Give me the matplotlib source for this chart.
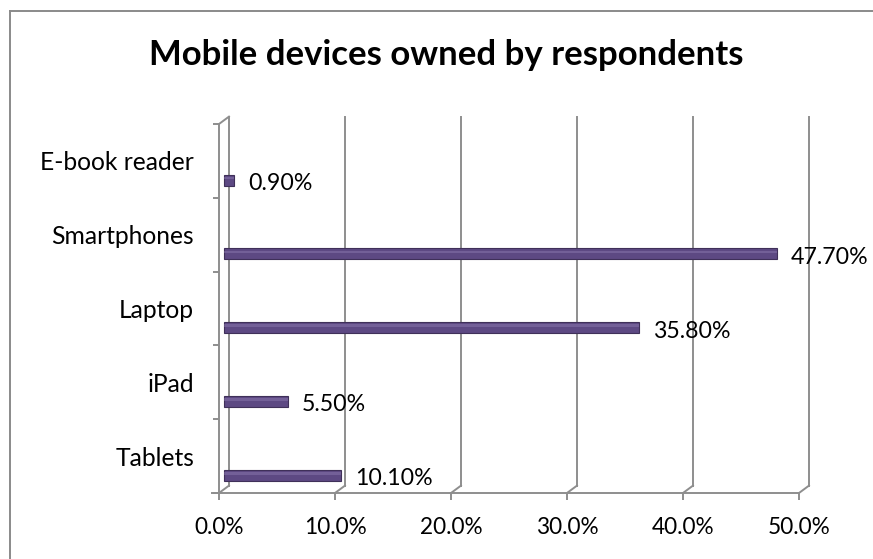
import matplotlib

matplotlib.use("Agg")
import matplotlib.pyplot as plt
from matplotlib.lines import Line2D

# Survey results: share of respondents owning each device type
devices = ["Tablets", "iPad", "Laptop", "Smartphones", "E-book reader"]
shares = [10.1, 5.5, 35.8, 47.7, 0.9]
x_ticks = [0, 10, 20, 30, 40, 50]
x_tick_labels = ["0.0%", "10.0%", "20.0%", "30.0%", "40.0%", "50.0%"]

TITLE = "Mobile devices owned by respondents"

W, H = 873, 559
BAR_COLOR = "#5d4983"
BAR_EDGE = "#3f3059"
BAR_SHINE = "#8a77ad"
GRID_COLOR = "#8e8e8e"
DEPTH_X = 0.86  # pseudo-3D depth of the back wall, in % units
DEPTH_Y = 0.10  # same depth, in category units
BAR_DROP = 0.26
BAR_HEIGHT = 0.15

plt.rcParams["font.family"] = ["Lato", "DejaVu Sans"]


def draw_chart() -> None:
    fig = plt.figure(figsize=(W / 100, H / 100), dpi=100)
    ax = fig.add_axes([219 / W, 1 - 493 / H, 580 / W, 369 / H])
    ax.set_xlim(0, 50)
    ax.set_ylim(0, len(devices))

    # back wall gridlines and floor diagonals
    for t in x_ticks:
        ax.plot([t + DEPTH_X, t + DEPTH_X], [DEPTH_Y, len(devices) + DEPTH_Y],
                color=GRID_COLOR, lw=1.4, clip_on=False, zorder=1)
        ax.plot([t, t + DEPTH_X], [0, DEPTH_Y], color=GRID_COLOR, lw=1.4,
                clip_on=False, zorder=1)
    ax.plot([0, DEPTH_X], [len(devices), len(devices) + DEPTH_Y],
            color=GRID_COLOR, lw=1.4, clip_on=False, zorder=1)
    ax.plot([-0.6, 50], [0, 0], color=GRID_COLOR, lw=1.4, clip_on=False, zorder=1)

    # bars sit halfway into the depth
    y_pos = [i + 0.5 - BAR_DROP for i in range(len(devices))]
    ax.barh(y_pos, shares, height=BAR_HEIGHT, left=DEPTH_X / 2, color=BAR_COLOR,
            edgecolor=BAR_EDGE, linewidth=0.8, zorder=3)
    ax.barh([y + BAR_HEIGHT * 0.18 for y in y_pos], shares, height=BAR_HEIGHT * 0.25,
            left=DEPTH_X / 2, color=BAR_SHINE, alpha=0.5, linewidth=0, zorder=4)

    for y, v in zip(y_pos, shares):
        ax.annotate(f"{v:.2f}%", xy=(v + DEPTH_X / 2, y), xytext=(10, -2.5),
                    textcoords="offset points", va="center", ha="left",
                    fontsize=16.7, color="black", zorder=5)

    for side in ["top", "right", "bottom"]:
        ax.spines[side].set_visible(False)
    ax.spines["left"].set_color(GRID_COLOR)
    ax.spines["left"].set_linewidth(1.4)

    ax.set_yticks(range(len(devices) + 1))
    ax.set_yticklabels([])
    ax.set_yticks([i + 0.5 for i in range(len(devices))], minor=True)
    ax.set_yticklabels(devices, minor=True, fontsize=17.7)
    ax.tick_params(axis="y", which="major", length=4.5, width=1.4, color=GRID_COLOR)
    ax.tick_params(axis="y", which="minor", length=0, pad=18)

    ax.set_xticks(x_ticks)
    ax.set_xticklabels(x_tick_labels, fontsize=16.3)
    ax.tick_params(axis="x", length=5, width=1.4, color=GRID_COLOR, pad=12.5)

    fig.text(446 / W, 1 - 65 / H, TITLE, ha="center", va="baseline",
             fontsize=25, fontweight="bold")

    # chart frame: only the left and top edges fall inside the image
    left, top = 9.5 / W, 1 - 10.5 / H
    fig.add_artist(Line2D([left, left], [0, top], color="#8a8a8a", lw=1.4,
                          transform=fig.transFigure))
    fig.add_artist(Line2D([left, 1], [top, top], color="#8a8a8a", lw=1.4,
                          transform=fig.transFigure))

    fig.savefig("out.png", dpi=100)
    plt.close(fig)


if __name__ == "__main__":
    draw_chart()
